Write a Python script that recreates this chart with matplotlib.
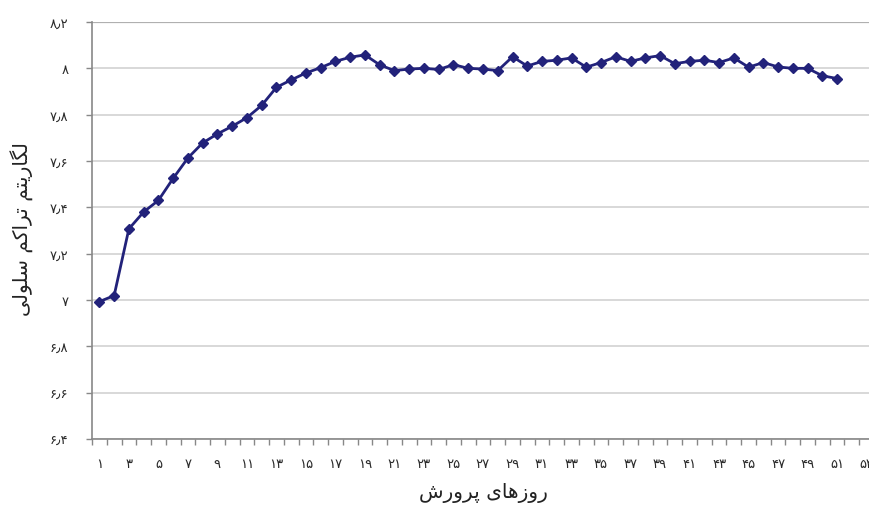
import matplotlib
matplotlib.use("Agg")
import matplotlib.pyplot as plt
from matplotlib import ticker

# Log cell density per culture day
days = list(range(1, 52))
log_density = [6.993, 7.019, 7.307, 7.38, 7.43, 7.525, 7.613, 7.678, 7.717, 7.75,
               7.787, 7.84, 7.918, 7.95, 7.98, 8.003, 8.03, 8.048, 8.058, 8.015,
               7.99, 7.997, 8.0, 7.995, 8.016, 8.0, 7.997, 7.99, 8.05, 8.01,
               8.03, 8.035, 8.045, 8.005, 8.025, 8.05, 8.03, 8.045, 8.055, 8.02,
               8.03, 8.035, 8.025, 8.045, 8.005, 8.025, 8.006, 8.0, 8.0, 7.968, 7.956]
n_categories = 53
y_ticks = [6.4, 6.6, 6.8, 7.0, 7.2, 7.4, 7.6, 7.8, 8.0, 8.2]
x_title = "روزهای پرورش"
y_title = "لگاریتم تراکم سلولی"

FA_DIGITS = str.maketrans("0123456789.", "۰۱۲۳۴۵۶۷۸۹٫")

# (isolated, final, initial, medial); letters with only two forms don't join forward
FORMS = {
    "ا": ("\uFE8D", "\uFE8E"),
    "ر": ("\uFEAD", "\uFEAE"),
    "ز": ("\uFEAF", "\uFEB0"),
    "و": ("\uFEED", "\uFEEE"),
    "ت": ("\uFE95", "\uFE96", "\uFE97", "\uFE98"),
    "س": ("\uFEB1", "\uFEB2", "\uFEB3", "\uFEB4"),
    "ش": ("\uFEB5", "\uFEB6", "\uFEB7", "\uFEB8"),
    "ل": ("\uFEDD", "\uFEDE", "\uFEDF", "\uFEE0"),
    "م": ("\uFEE1", "\uFEE2", "\uFEE3", "\uFEE4"),
    "ه": ("\uFEE9", "\uFEEA", "\uFEEB", "\uFEEC"),
    "پ": ("\uFB56", "\uFB57", "\uFB58", "\uFB59"),
    "ک": ("\uFB8E", "\uFB8F", "\uFB90", "\uFB91"),
    "گ": ("\uFB92", "\uFB93", "\uFB94", "\uFB95"),
    "ی": ("\uFBFC", "\uFBFD", "\uFBFE", "\uFBFF"),
}


def shape_fa(text):
    """Join Persian letters into contextual forms and return them in visual order."""
    out = []
    for i, ch in enumerate(text):
        if ch not in FORMS:
            out.append(ch)
            continue
        prev = text[i - 1] if i > 0 else ""
        nxt = text[i + 1] if i + 1 < len(text) else ""
        joins_prev = prev in FORMS and len(FORMS[prev]) == 4
        joins_next = len(FORMS[ch]) == 4 and nxt in FORMS
        f = FORMS[ch]
        if joins_prev and joins_next:
            out.append(f[3])
        elif joins_prev:
            out.append(f[1])
        elif joins_next:
            out.append(f[2])
        else:
            out.append(f[0])
    return "".join(reversed(out))


plt.rcParams["font.family"] = ["DejaVu Sans"]

fig = plt.figure(figsize=(8.7, 5.06), dpi=100)
ax = fig.add_axes([92 / 870, 1 - 440 / 506, 782 / 870, 417 / 506])

ax.plot(days, log_density, color="#22227a", lw=2.0, marker="D", ms=5,
        mec="#22227a", mfc="#22227a", zorder=3)

ax.set_xlim(0.5, n_categories + 0.5)
ax.set_ylim(6.4, 8.2)

ax.set_yticks(y_ticks)
ax.set_yticklabels([f"{v:g}".translate(FA_DIGITS) for v in y_ticks])
ax.yaxis.grid(True, color="#d2d2d2", lw=1.2)
ax.set_axisbelow(True)

label_days = list(range(1, n_categories + 1, 2))
ax.set_xticks(label_days)
ax.set_xticklabels([str(d).translate(FA_DIGITS) for d in label_days])
ax.xaxis.set_minor_locator(ticker.FixedLocator([k + 0.5 for k in range(n_categories + 1)]))
ax.tick_params(axis="x", which="major", length=0, pad=13, labelsize=9.5, colors="#2a2a2a")
ax.tick_params(axis="x", which="minor", length=4, color="#888888", width=1)
ax.tick_params(axis="y", length=4, color="#888888", width=1, pad=13, labelsize=9.5,
               labelcolor="#2a2a2a")

for side in ("top", "right"):
    ax.spines[side].set_visible(False)
for side in ("left", "bottom"):
    ax.spines[side].set_color("#888888")
    ax.spines[side].set_linewidth(1.2)
ax.axhline(8.2, color="#b0b0b0", lw=1.6, zorder=1)

fig.text(483 / 870, 1 - 493 / 506, shape_fa(x_title), ha="center", va="center",
         fontsize=14.5, color="#222222")
fig.text(22 / 870, 1 - 229 / 506, shape_fa(y_title), ha="center", va="center",
         rotation=90, fontsize=14.5, color="#222222")

fig.savefig("out.png", dpi=100, facecolor="white")
